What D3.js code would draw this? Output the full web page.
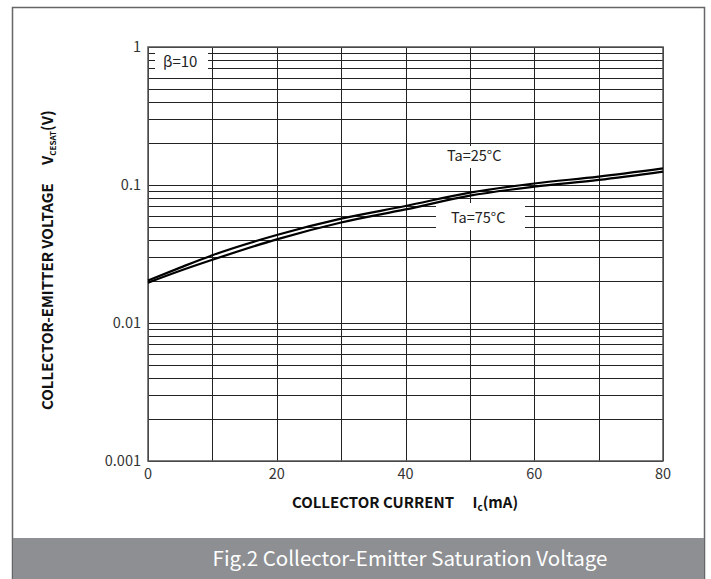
<!DOCTYPE html>
<html>
<head>
<meta charset="utf-8">
<script src="https://cdn.jsdelivr.net/npm/d3@7"></script>
<style>
  body { margin: 0; background: #fff; }
  svg { display: block; font-family: "Noto Sans CJK SC", "Noto Sans", sans-serif; }
</style>
</head>
<body>
<svg width="711" height="579"></svg>
<script>
// collector current (mA) and VCE(sat) (V)
const current = [0, 5, 10, 20, 30, 40, 50, 60, 70, 80];
const vce25 = [0.0203, 0.0252, 0.031, 0.0434, 0.057, 0.0704, 0.088, 0.1025, 0.115, 0.132];
const vce75 = [0.0196, 0.0239, 0.0287, 0.0404, 0.0535, 0.0665, 0.0837, 0.0972, 0.1088, 0.125];
const xTicks = [0, 20, 40, 60, 80];
const yTicks = [0.001, 0.01, 0.1, 1];

const svg = d3.select("svg");
const pl = 148, pr = 663, pt = 47, pb = 461;

const x = d3.scaleLinear().domain([0, 80]).range([pl, pr]);
const y = d3.scaleLog().domain([0.001, 1]).range([pb, pt]);

// frame and caption band
svg.append("rect")
  .attr("x", 12.5).attr("y", 7.5).attr("width", 692).attr("height", 580)
  .attr("fill", "#fff").attr("stroke", "#666").attr("stroke-width", 1.5);
svg.append("rect")
  .attr("x", 13).attr("y", 538).attr("width", 691).attr("height", 41)
  .attr("fill", "#8e8f93");
svg.append("text")
  .attr("x", 410).attr("y", 566)
  .attr("text-anchor", "middle")
  .attr("fill", "#fff").attr("font-size", 20.5)
  .text("Fig.2 Collector-Emitter Saturation Voltage");

// grid
const g = svg.append("g");
const minor = [];
[0.001, 0.01, 0.1].forEach(d => {
  for (let k = 1; k <= 9; k++) minor.push(d * k);
});
minor.push(1);
g.selectAll(".hg").data(minor).enter().append("line")
  .attr("x1", pl).attr("x2", pr)
  .attr("y1", d => Math.round(y(d)) + 0.5).attr("y2", d => Math.round(y(d)) + 0.5)
  .attr("stroke", "#222").attr("stroke-width", 1);
g.selectAll(".vg").data(d3.range(0, 81, 10)).enter().append("line")
  .attr("x1", d => Math.round(x(d)) + 0.5).attr("x2", d => Math.round(x(d)) + 0.5)
  .attr("y1", pt).attr("y2", pb)
  .attr("stroke", "#222").attr("stroke-width", 1);

// white label boxes over the grid
const boxes = [
  { x: 155, y: 49, w: 53, h: 24 },
  { x: 440, y: 146, w: 72, h: 22 },
  { x: 436, y: 203, w: 89, h: 27 }
];
g.selectAll(".box").data(boxes).enter().append("rect")
  .attr("x", d => d.x).attr("y", d => d.y)
  .attr("width", d => d.w).attr("height", d => d.h)
  .attr("fill", "#fff");

// plot border
svg.append("rect")
  .attr("x", pl).attr("y", pt).attr("width", pr - pl).attr("height", pb - pt)
  .attr("fill", "none").attr("stroke", "#555").attr("stroke-width", 1.5);

// curves
const line = d3.line()
  .x((d, i) => x(current[i]))
  .y(d => y(d))
  .curve(d3.curveMonotoneX);
[vce25, vce75].forEach(s => {
  svg.append("path")
    .attr("d", line(s))
    .attr("fill", "none").attr("stroke", "#000").attr("stroke-width", 2.2);
});

// labels
svg.append("text").attr("x", 163).attr("y", 67).attr("font-size", 15).attr("fill", "#222").text("β=10");
svg.append("text").attr("x", 447).attr("y", 161).attr("font-size", 14.5).attr("fill", "#222").text("Ta=25°C");
svg.append("text").attr("x", 451).attr("y", 223).attr("font-size", 14.5).attr("fill", "#222").text("Ta=75°C");

// tick labels
svg.selectAll(".xt").data(xTicks).enter().append("text")
  .attr("x", d => x(d)).attr("y", 479)
  .attr("text-anchor", "middle").attr("font-size", 14.5).attr("fill", "#333")
  .text(d => d);
svg.selectAll(".yt").data(yTicks).enter().append("text")
  .attr("x", 141).attr("y", d => y(d) + 5)
  .attr("text-anchor", "end").attr("font-size", 14.5).attr("fill", "#333")
  .text(d => d3.format("~g")(d));

// axis titles
const xt = svg.append("text")
  .attr("x", 405).attr("y", 508)
  .attr("text-anchor", "middle").attr("font-size", 15).attr("font-weight", "bold").attr("fill", "#111");
xt.append("tspan").text("COLLECTOR CURRENT\u2003 I");
xt.append("tspan").attr("font-size", 10).attr("dy", 3).text("c");
xt.append("tspan").attr("dy", -3).text("(mA)");

const yt = svg.append("text")
  .attr("transform", "translate(53,410) rotate(-90)")
  .attr("text-anchor", "start").attr("font-size", 15).attr("font-weight", "bold").attr("fill", "#111");
yt.append("tspan").text("COLLECTOR-EMITTER VOLTAGE\u2003 V");
yt.append("tspan").attr("font-size", 8).attr("dy", 3).text("CESAT");
yt.append("tspan").attr("dy", -3).text("(V)");
</script>
</body>
</html>
